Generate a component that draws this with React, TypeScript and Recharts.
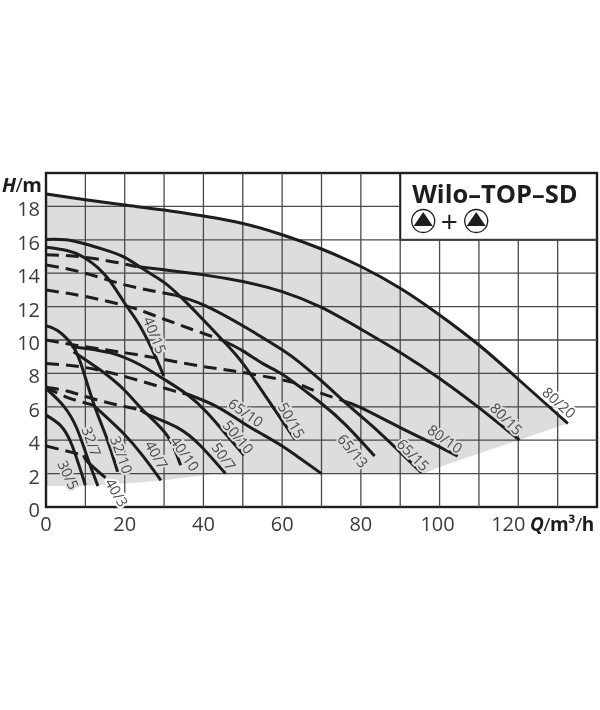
import React from "react";
import {
  ComposedChart,
  Area,
  Line,
  XAxis,
  YAxis,
  ReferenceLine,
  ReferenceArea,
} from "recharts";

type Pair = [number, number];

const xTicks = [0, 20, 40, 60, 80, 100, 120];
const yTicks = [0, 2, 4, 6, 8, 10, 12, 14, 16, 18];
const xGridFull = [10, 20, 30, 40, 50, 60, 70, 80];
const xGridShort = [90, 100, 110, 120, 130];
const yGridFull = [2, 4, 6, 8, 10, 12, 14, 16];
const yGridShort = [18];

const envelopeQ = [0, 10, 20, 30, 40, 45, 50, 60, 70, 80, 90, 95, 100, 110, 120, 132.6];
const envelopeTop = [18.75, 18.4, 18.08, 17.78, 17.42, 17.2, 16.98, 16.3, 15.45, 14.4, 13.1, 12.35, 11.5, 9.7, 7.65, 5.0];
const envelopeLow = [1.25, 1.27, 1.4, 1.6, 1.9, 2, 2, 2, 2, 2, 2, 2, 2.4, 3.2, 4, 5];

const solid8020: Pair[] = [[0, 18.75], [10, 18.4], [20, 18.08], [30, 17.78], [40, 17.42], [50, 16.98], [60, 16.3], [70, 15.45], [80, 14.4], [90, 13.1], [100, 11.5], [110, 9.7], [120, 7.65], [132.6, 5.0]];
const solid8015: Pair[] = [[23, 14.4], [30, 14.2], [40, 13.9], [50, 13.5], [60, 12.9], [70, 11.95], [80, 10.65], [90, 9.25], [100, 7.7], [110, 5.95], [120.3, 4.0]];
const dash8015: Pair[] = [[0, 15.1], [10, 14.95], [20, 14.55], [23, 14.4]];
const solid5015: Pair[] = [[0, 16.02], [5, 16], [10, 15.75], [15, 15.4], [20, 14.95], [25, 14.2], [30, 13.45], [35, 12.4], [40, 11.2], [45, 9.95], [50, 8.6], [56, 6.56], [60, 5.17], [63.3, 4.03]];
const solid4015: Pair[] = [[0, 15.55], [5.3, 15.36], [10, 14.9], [15.5, 13.76], [20, 12.2], [24, 10.8], [28.2, 8.8], [29.9, 7.85]];
const solid6515: Pair[] = [[32.6, 12.7], [40, 12.1], [50, 10.85], [60, 9.42], [64.5, 8.65], [70, 7.55], [77, 6.05], [85, 4.4], [95.4, 2.05]];
const dash6515: Pair[] = [[0, 14.5], [10, 14], [20, 13.3], [32.6, 12.7]];
const solid6513: Pair[] = [[44.7, 10], [50, 9.35], [55, 8.6], [60, 7.95], [65, 7.1], [70, 6.2], [76, 4.95], [83.5, 3.05]];
const dash6513: Pair[] = [[0, 13], [10, 12.6], [20, 12.06], [26, 11.6], [34, 10.9], [44.7, 10]];
const solid8010: Pair[] = [[74.6, 6.43], [80, 5.95], [90, 4.75], [97, 3.95], [104.6, 3.05]];
const dash8010: Pair[] = [[0, 10], [10.4, 9.58], [20.2, 9.23], [27.8, 8.93], [39.2, 8.44], [47.7, 8.14], [61.3, 7.54], [67.5, 7.03], [74.6, 6.43]];
const solid6510: Pair[] = [[36, 6.75], [43.5, 6], [50, 5.05], [55, 4.35], [60, 3.65], [64.6, 2.9], [70, 2]];
const dash6510: Pair[] = [[0, 8.6], [10, 8.35], [21, 7.75], [32.5, 6.95], [36, 6.75]];
const solid5010: Pair[] = [[6.5, 9.6], [16.4, 9.23], [24, 8.5], [30, 7.65], [35.8, 6.75], [40.9, 5.66], [46, 4.28], [50.3, 3.09]];
const solid4010: Pair[] = [[7, 9.3], [13.8, 8.2], [19.7, 7.05], [24.8, 5.76], [30.8, 4.28], [34.2, 2.5]];
const solid3210: Pair[] = [[0, 10.85], [3, 10.55], [6.9, 9.6], [9.4, 8.2], [12.4, 6], [15.5, 4.08], [18.2, 2.1]];
const solid327: Pair[] = [[0, 7.1], [4.5, 6.04], [7.9, 4.67], [10.6, 2.9], [13.2, 1.25]];
const solid407: Pair[] = [[12, 6.1], [19.7, 4.4], [24.8, 3], [29.2, 1.6]];
const dash407: Pair[] = [[0, 7.2], [5, 6.6], [12, 6.1]];
const solid507: Pair[] = [[24, 5.82], [26.5, 5.47], [33.3, 4.77], [39.2, 3.68], [45.6, 2]];
const dash507: Pair[] = [[0, 7.15], [5.3, 6.95], [13.8, 6.36], [24, 5.82]];
const solid305: Pair[] = [[0, 5.5], [3.6, 4.9], [6.6, 3.7], [10, 1.3]];
const solid403: Pair[] = [[9.6, 3.1], [10.6, 2.7], [15.1, 1.75]];
const dash403: Pair[] = [[0, 3.65], [9.6, 3.1]];

const solidCurves = [solid8020, solid8015, solid5015, solid4015, solid6515, solid6513, solid8010, solid6510, solid5010, solid4010, solid3210, solid327, solid407, solid507, solid305, solid403];
const dashedCurves = [dash8015, dash6515, dash6513, dash8010, dash6510, dash407, dash507, dash403];

const curveNames = ["30/5", "32/7", "32/10", "40/3", "40/7", "40/10", "50/7", "50/10", "65/10", "50/15", "40/15", "65/13", "65/15", "80/10", "80/15", "80/20"];
const curveNameQ = [5.7, 11.6, 19.2, 18, 28.1, 35.3, 45.2, 48.9, 50.8, 62.4, 27.7, 78, 93.3, 101.4, 117, 130.4];
const curveNameH = [1.93, 3.93, 3.13, 0.87, 3.13, 3.2, 3.03, 4.2, 5.66, 5.2, 10.3, 3.37, 3.13, 4.09, 5.29, 6.26];
const curveNameAngle = [65, 70, 70, 60, 60, 55, 55, 50, 35, 60, 68, 50, 45, 35, 45, 42];

const titleText = "Wilo–TOP–SD";

const toPoints = (p: Pair[]) => p.map(([q, h]) => ({ q, h }));
const envelopeRows = envelopeQ.map((q, i) => ({ q, band: [envelopeLow[i], envelopeTop[i]] }));
const nameRows = curveNames.map((name, i) => ({ q: curveNameQ[i], h: curveNameH[i], name, angle: curveNameAngle[i] }));

const FONT = "'Open Sans', sans-serif";
const INK = "#1d1d1b";
const TEXT = "#3c3c3b";
const GREY = "#dcddde";
const GRID = "#4a4a49";

const XTick = (props: any) => {
  const v = props.payload.value;
  return (
    <text x={props.x + (v === 120 ? -10 : v === 100 ? -2 : 0)} y={531} textAnchor="middle" fontFamily={FONT} fontSize={20} fill={TEXT}>
      {v}
    </text>
  );
};

const YTick = (props: any) => (
  <text x={40} y={props.y + 10} textAnchor="end" fontFamily={FONT} fontSize={20} fill={TEXT}>
    {props.payload.value}
  </text>
);

const Pump = ({ cx, cy }: { cx: number; cy: number }) => (
  <g>
    <circle cx={cx} cy={cy} r={11.5} fill="#fff" stroke={INK} strokeWidth={1.3} />
    <path d={`M${cx} ${cy - 9} L${cx + 9.5} ${cy + 5} L${cx - 9.5} ${cy + 5} Z`} fill={INK} />
  </g>
);

const LegendBox = (props: any) => {
  const { x, y, width, height } = props;
  return (
    <g>
      <rect x={x} y={y} width={width} height={height} fill="#fff" stroke={INK} strokeWidth={2} />
      <text x={x + 12} y={y + 30} fontFamily={FONT} fontWeight={700} fontSize={25.5} fill={INK}>
        {titleText}
      </text>
      <Pump cx={x + 23} cy={y + 48} />
      <text x={x + 49} y={y + 59} textAnchor="middle" fontFamily={FONT} fontSize={30} fill={INK}>
        +
      </text>
      <Pump cx={x + 76} cy={y + 48} />
    </g>
  );
};

const Frame = (props: any) => (
  <rect x={props.x} y={props.y} width={props.width} height={props.height} fill="none" stroke={INK} strokeWidth={2.4} />
);

const renderCurveName = (props: any) => {
  const { cx, cy, payload, index } = props;
  const halo = payload.name === "40/3" || payload.name === "80/20" ? "#fff" : GREY;
  return (
    <text
      key={index}
      x={cx}
      y={cy}
      transform={`rotate(${payload.angle} ${cx} ${cy})`}
      textAnchor="middle"
      dominantBaseline="central"
      fontFamily={FONT}
      fontSize={14.5}
      fill="#4a4a49"
      stroke={halo}
      strokeWidth={4}
      paintOrder="stroke"
    >
      {payload.name}
    </text>
  );
};

export default function App() {
  return (
    <div style={{ position: "absolute", left: 0, top: 0, width: 600, height: 710, background: "#fff", filter: "grayscale(1)" }}>
      <ComposedChart
        width={600}
        height={710}
        margin={{ top: 173, right: 3, bottom: 170, left: 0 }}
        data={envelopeRows}
      >
        <XAxis
          type="number"
          dataKey="q"
          domain={[0, 140]}
          ticks={xTicks}
          allowDataOverflow
          tick={<XTick />}
          tickLine={false}
          axisLine={false}
          height={33}
          interval={0}
        />
        <YAxis
          type="number"
          domain={[0, 20]}
          ticks={yTicks}
          tick={<YTick />}
          tickLine={false}
          axisLine={false}
          width={46}
          interval={0}
        />
        <Area dataKey="band" type="monotone" fill={GREY} fillOpacity={1} stroke="none" isAnimationActive={false} dot={false} activeDot={false} />
        {yGridFull.map((v) => (
          <ReferenceLine key={`gy${v}`} y={v} stroke={GRID} strokeWidth={1.3} />
        ))}
        {yGridShort.map((v) => (
          <ReferenceLine key={`hy${v}`} segment={[{ x: 0, y: v }, { x: 90, y: v }]} stroke={GRID} strokeWidth={1.3} />
        ))}
        {xGridFull.map((v) => (
          <ReferenceLine key={`gx${v}`} x={v} stroke={GRID} strokeWidth={1.3} />
        ))}
        {xGridShort.map((v) => (
          <ReferenceLine key={`hx${v}`} segment={[{ x: v, y: 0 }, { x: v, y: 16 }]} stroke={GRID} strokeWidth={1.3} />
        ))}
        <ReferenceArea x1={90} x2={140} y1={16} y2={20} shape={<LegendBox />} ifOverflow="visible" />
        <Line data={nameRows} dataKey="h" stroke="none" dot={renderCurveName} activeDot={false} isAnimationActive={false} legendType="none" />
        {solidCurves.map((c, i) => (
          <Line key={`s${i}`} data={toPoints(c)} dataKey="h" type="natural" stroke={INK} strokeWidth={3} dot={false} activeDot={false} isAnimationActive={false} />
        ))}
        {dashedCurves.map((c, i) => (
          <Line key={`d${i}`} data={toPoints(c)} dataKey="h" type="natural" stroke={INK} strokeWidth={3} strokeDasharray="13 7" dot={false} activeDot={false} isAnimationActive={false} />
        ))}
        <ReferenceArea x1={0} x2={140} y1={0} y2={20} shape={<Frame />} ifOverflow="visible" />
      </ComposedChart>
      <svg width={600} height={710} style={{ position: "absolute", left: 0, top: 0, pointerEvents: "none" }}>
        <text x={2} y={192} fontFamily={FONT} fontSize={20} letterSpacing={-0.5} fontWeight={700} fill={INK}>
          <tspan fontStyle="italic">H</tspan>
          <tspan fontWeight={400}>/</tspan>
          <tspan>m</tspan>
        </text>
        <text x={530} y={531} fontFamily={FONT} fontSize={19} letterSpacing={-0.4} fontWeight={700} fill={INK}>
          <tspan fontStyle="italic">Q</tspan>
          <tspan fontWeight={400}>/</tspan>
          <tspan>m³</tspan>
          <tspan fontWeight={400}>/</tspan>
          <tspan>h</tspan>
        </text>
      </svg>
    </div>
  );
}
